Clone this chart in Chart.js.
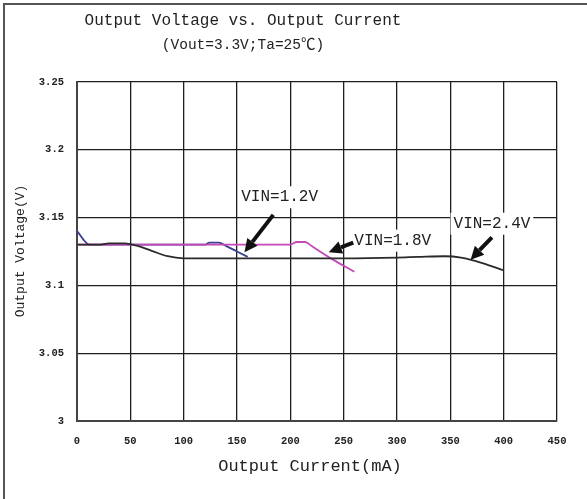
<!DOCTYPE html>
<html><head><meta charset="utf-8">
<script src="https://cdn.jsdelivr.net/npm/chart.js@4/dist/chart.umd.min.js"></script>
<style>html,body{margin:0;padding:0;background:#fff;overflow:hidden}</style>
</head><body>
<canvas id="c" width="587" height="499"></canvas>
<script>
// ---- data ----
const chartTitle = 'Output Voltage vs. Output Current';
const chartSubtitle = '(Vout=3.3V;Ta=25\u2103)';
const xAxisTitle = 'Output Current(mA)';
const yAxisTitle = 'Output Voltage(V)';
const xTicks = [0, 50, 100, 150, 200, 250, 300, 350, 400, 450];
const yTicks = [3, 3.05, 3.1, 3.15, 3.2, 3.25];
const seriesNames = ['VIN=1.2V', 'VIN=1.8V', 'VIN=2.4V'];

const vin12Current = [0, 12, 30, 60, 100, 120, 124, 133, 140, 150, 160];
const vin12Voltage = [3.14, 3.13, 3.13, 3.13, 3.13, 3.13, 3.1315, 3.1315, 3.129, 3.125, 3.121];

const vin18Current = [0, 50, 100, 150, 200, 206, 214, 220, 240, 260];
const vin18Voltage = [3.13, 3.13, 3.13, 3.13, 3.13, 3.132, 3.132, 3.129, 3.119, 3.11];

const vin24Current = [0, 20, 30, 45, 55, 70, 85, 100, 150, 200, 250, 300, 320, 345, 360, 380, 400];
const vin24Voltage = [3.13, 3.13, 3.131, 3.131, 3.1295, 3.1255, 3.1215, 3.12, 3.12, 3.12, 3.12, 3.1205, 3.121, 3.1215, 3.1205, 3.1165, 3.111];

const toPoints = (xs, ys) => xs.map((x, i) => ({x: x, y: ys[i]}));

// ---- decorations plugin ----
const MONO = "'Liberation Mono','Noto Sans CJK SC',monospace";
const notes = [
  {text: seriesNames[0], lx: 190, ly: 3.165, ax: 184, ay: 3.152, tx: 157, ty: 3.1245},
  {text: seriesNames[1], lx: 296, ly: 3.133, ax: 259, ay: 3.1315, tx: 236, ty: 3.1245},
  {text: seriesNames[2], lx: 389, ly: 3.1455, ax: 389, ay: 3.1355, tx: 369, ty: 3.119}
];
const deco = {
  id: 'deco',
  beforeDraw(chart) {
    const ctx = chart.ctx;
    ctx.save();
    ctx.fillStyle = '#fff';
    ctx.fillRect(0, 0, chart.width, chart.height);
    ctx.strokeStyle = '#555';
    ctx.lineWidth = 2;
    ctx.beginPath();
    ctx.moveTo(4, chart.height); ctx.lineTo(4, 4); ctx.lineTo(chart.width, 4);
    ctx.stroke();
    ctx.restore();
  },
  afterDraw(chart) {
    const ctx = chart.ctx, xs = chart.scales.x, ys = chart.scales.y;
    ctx.save();
    ctx.fillStyle = '#222';
    ctx.textAlign = 'center';
    ctx.textBaseline = 'middle';
    ctx.font = '16px ' + MONO;
    ctx.fillText(chartTitle, 243, 21);
    ctx.font = '14.5px ' + MONO;
    ctx.fillText(chartSubtitle, 243, 45);
    ctx.font = '17px ' + MONO;
    ctx.fillText(xAxisTitle, 310, 466);
    ctx.save();
    ctx.translate(21, 251);
    ctx.rotate(-Math.PI / 2);
    ctx.font = '13px ' + MONO;
    ctx.fillText(yAxisTitle, 0, 0);
    ctx.restore();
    // annotations
    notes.forEach(n => {
      const lx = xs.getPixelForValue(n.lx), ly = ys.getPixelForValue(n.ly);
      ctx.font = '16px ' + MONO;
      const w = ctx.measureText(n.text).width;
      ctx.fillStyle = '#fff';
      ctx.fillRect(lx - w / 2 - 3, ly - 11, w + 6, 22);
      ctx.fillStyle = '#222';
      ctx.fillText(n.text, lx, ly);
      const x0 = xs.getPixelForValue(n.ax), y0 = ys.getPixelForValue(n.ay);
      const x1 = xs.getPixelForValue(n.tx), y1 = ys.getPixelForValue(n.ty);
      const ang = Math.atan2(y1 - y0, x1 - x0);
      const hl = 13, hw = 6.5;
      const bx = x1 - hl * Math.cos(ang), by = y1 - hl * Math.sin(ang);
      ctx.strokeStyle = '#111';
      ctx.lineWidth = 4;
      ctx.beginPath(); ctx.moveTo(x0, y0); ctx.lineTo(bx, by); ctx.stroke();
      ctx.fillStyle = '#111';
      ctx.beginPath();
      ctx.moveTo(x1, y1);
      ctx.lineTo(bx + hw * Math.sin(ang), by - hw * Math.cos(ang));
      ctx.lineTo(bx - hw * Math.sin(ang), by + hw * Math.cos(ang));
      ctx.closePath(); ctx.fill();
    });
    ctx.restore();
  }
};

new Chart(document.getElementById('c'), {
  type: 'line',
  data: {
    datasets: [
      {label: seriesNames[2], data: toPoints(vin24Current, vin24Voltage), borderColor: '#2a2a2a', order: 0},
      {label: seriesNames[1], data: toPoints(vin18Current, vin18Voltage), borderColor: '#c548b8', order: 1},
      {label: seriesNames[0], data: toPoints(vin12Current, vin12Voltage), borderColor: '#3b3f92', order: 2}
    ]
  },
  options: {
    responsive: false,
    devicePixelRatio: 1,
    animation: false,
    layout: {padding: {left: 0, top: 82, right: 30, bottom: 0}},
    elements: {
      point: {radius: 0},
      line: {borderWidth: 1.8, cubicInterpolationMode: 'monotone', fill: false}
    },
    plugins: {legend: {display: false}, title: {display: false}, tooltip: {enabled: false}},
    scales: {
      x: {
        type: 'linear', min: 0, max: 450,
        afterFit(s) { s.height = 78; },
        afterBuildTicks(s) { s.ticks = xTicks.map(v => ({value: v})); },
        grid: {color: '#1e1e1e', lineWidth: 1.3, drawTicks: false},
        border: {display: true, color: '#444', width: 2},
        ticks: {padding: 14, color: '#222', font: {family: MONO, size: 10.5, weight: 'bold'}, maxRotation: 0, callback: v => String(v)}
      },
      y: {
        type: 'linear', min: 3, max: 3.25,
        afterFit(s) { s.width = 77; },
        afterBuildTicks(s) { s.ticks = yTicks.map(v => ({value: v})); },
        grid: {color: '#1e1e1e', lineWidth: 1.3, drawTicks: false},
        border: {display: true, color: '#444', width: 2},
        ticks: {padding: 13, color: '#222', font: {family: MONO, size: 10.5, weight: 'bold'}, callback: v => String(+Number(v).toFixed(2))}
      }
    }
  },
  plugins: [deco]
});
</script>
</body></html>
